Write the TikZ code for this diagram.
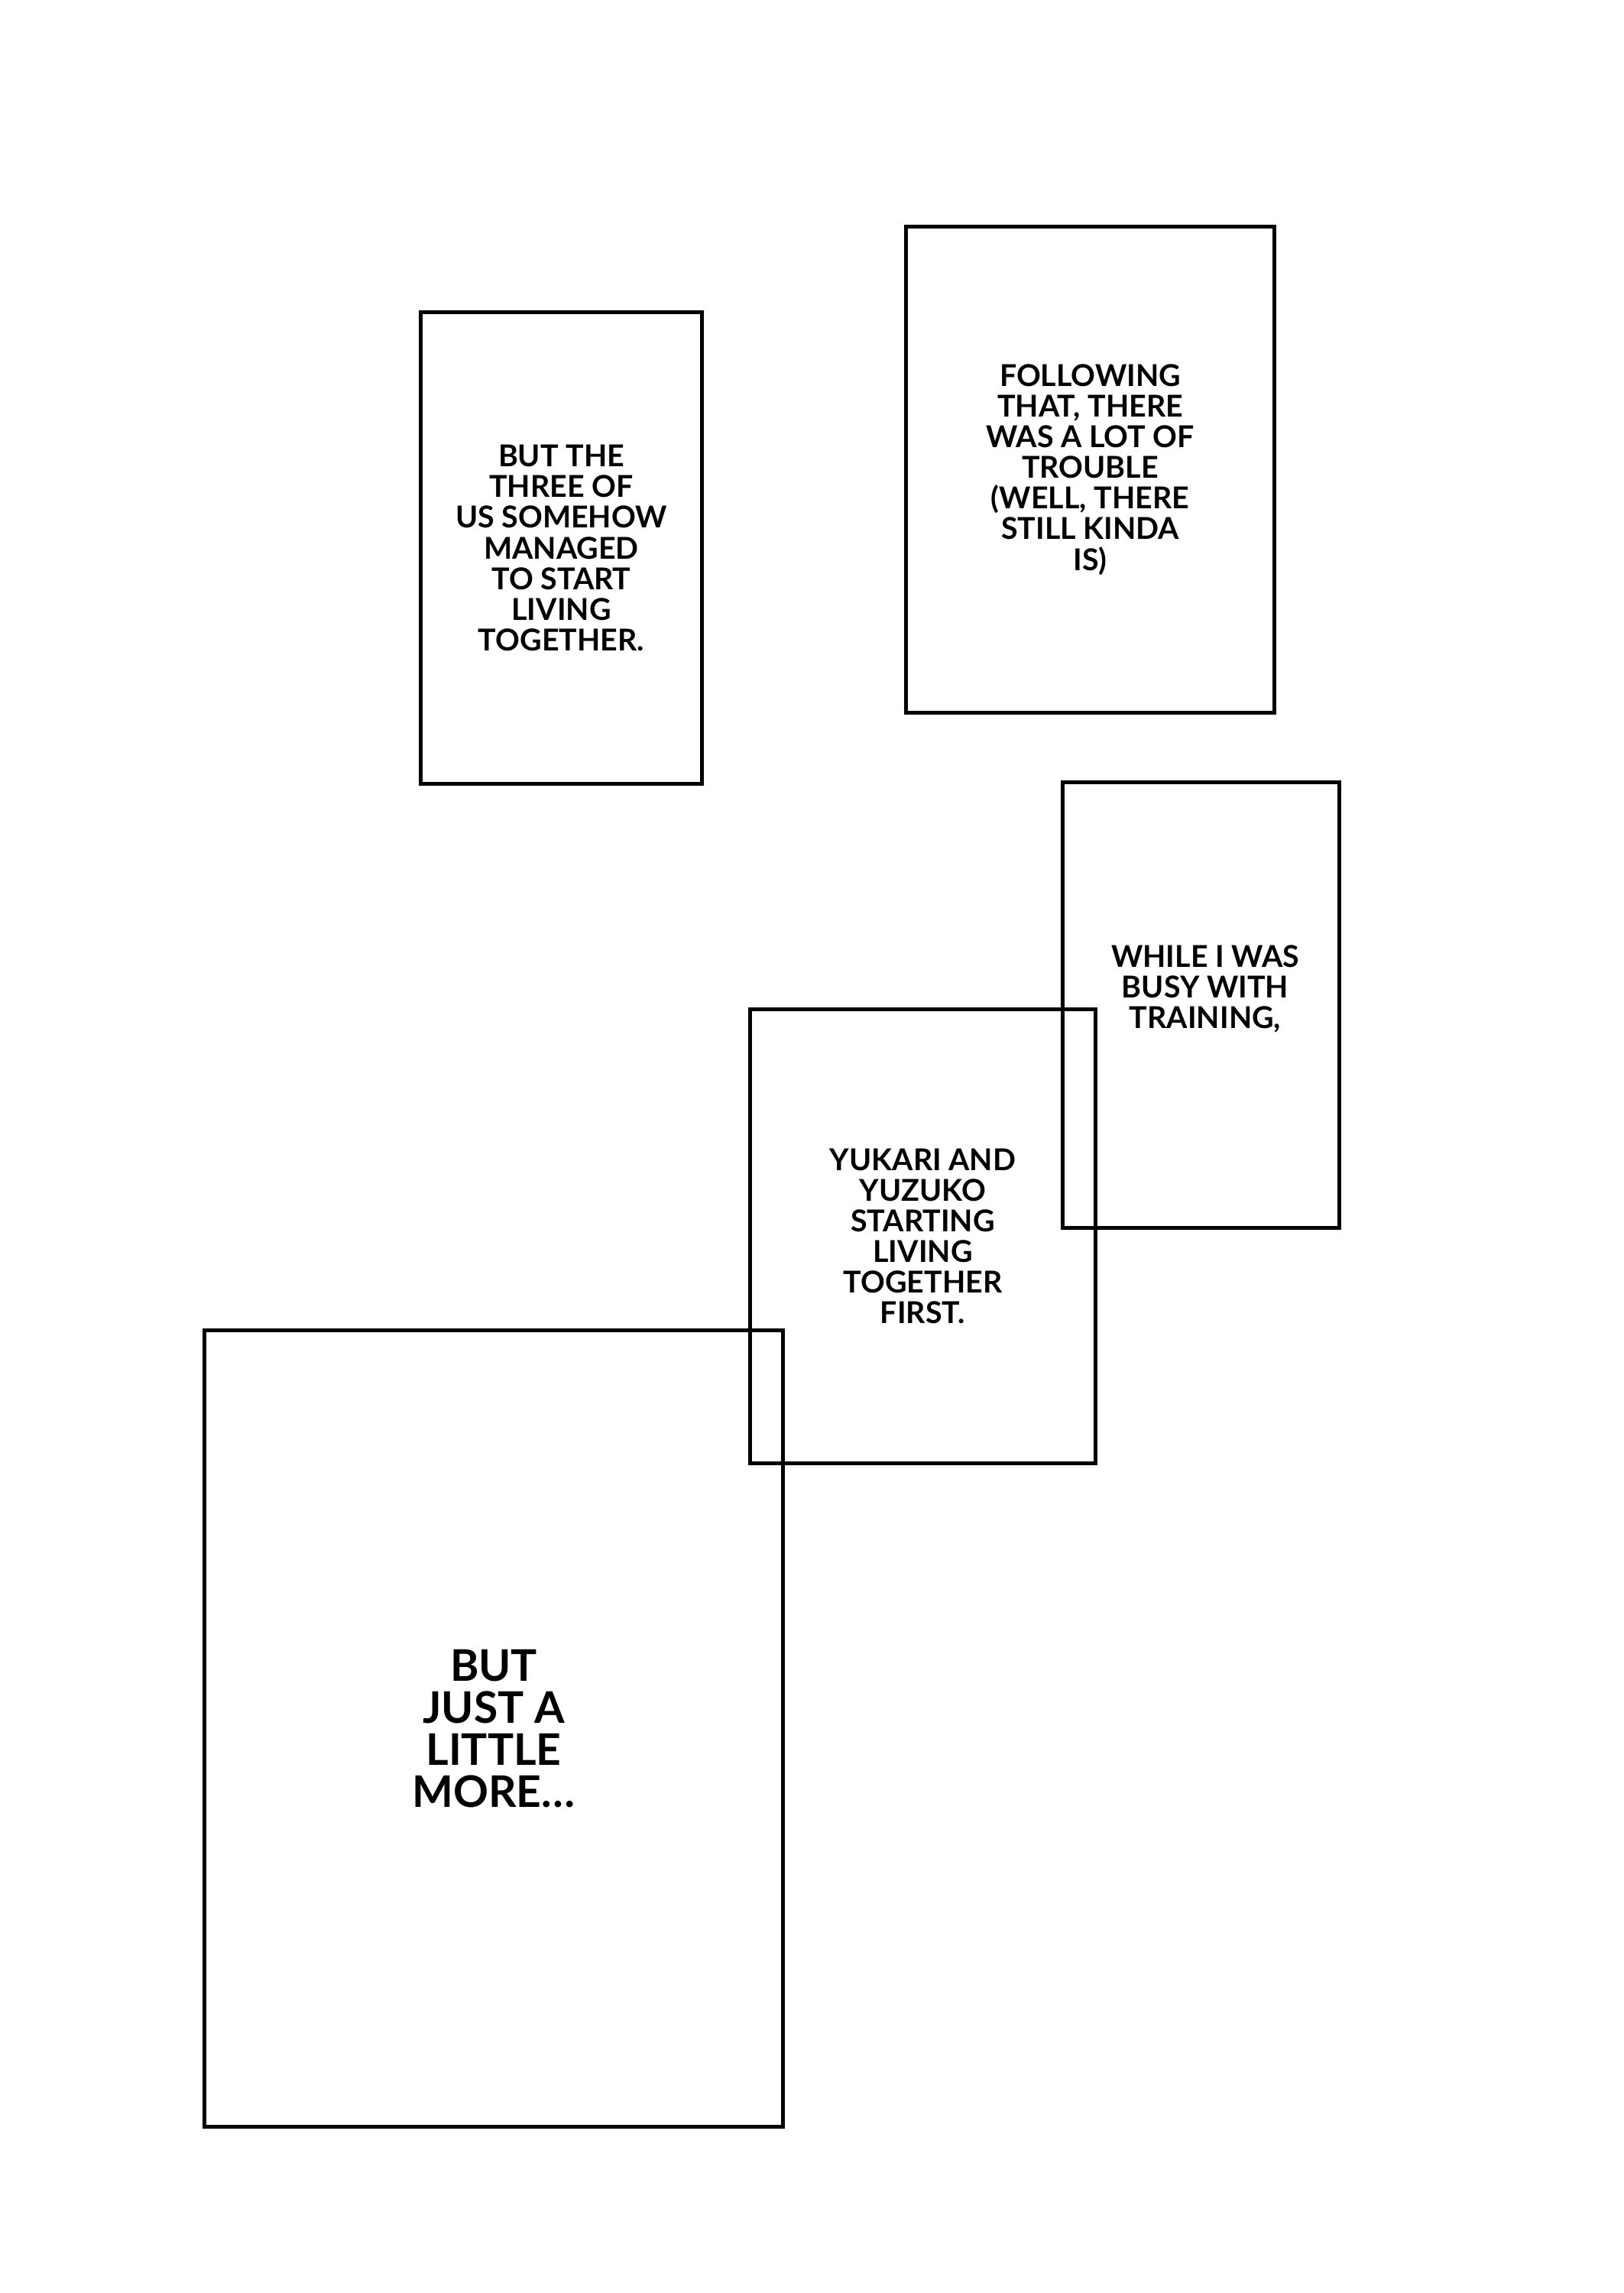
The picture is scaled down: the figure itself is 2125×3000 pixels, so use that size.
\documentclass[tikz,border=0pt]{standalone}
\usepackage{fontspec}
\setmainfont{Lato}
\usepackage{tikz}
\usetikzlibrary{positioning}

\tikzset{
  panel/.style={draw, line width=1.42pt, rectangle, align=center, inner sep=0pt,
    font=\fontsize{11.2}{11.4}\selectfont\bfseries},
  bigpanel/.style={panel, font=\fontsize{16.2}{15.6}\selectfont\bfseries}
}

\begin{document}
\begin{tikzpicture}[x=0.01cm, y=-0.01cm]
    \useasboundingbox (0, 0) rectangle (2125, 3000);
    \node[panel, minimum width=3.67cm, minimum height=6.16cm] (three) at (734.5, 717)
        {BUT THE\\THREE OF\\US SOMEHOW\\MANAGED\\TO START\\LIVING\\TOGETHER.};
    \node[panel, minimum width=4.81cm, minimum height=6.35cm] (trouble) at (1426.5, 614.5)
        {FOLLOWING\\THAT, THERE\\WAS A LOT OF\\TROUBLE\\(WELL, THERE\\STILL KINDA\\IS)};
    \node[panel, minimum width=3.61cm, minimum height=5.82cm] (training) at (1571.5, 1315) {};
    \node (trainingtext) at (1577, 1294) [font=\fontsize{11.2}{11.4}\selectfont\bfseries, align=center, inner sep=0pt]
        {WHILE I WAS\\BUSY WITH\\TRAINING,};
    \node[panel, minimum width=4.51cm, minimum height=5.93cm] (first) at (1207.5, 1617.5)
        {YUKARI AND\\YUZUKO\\STARTING\\LIVING\\TOGETHER\\FIRST.};
    \node[bigpanel, minimum width=7.56cm, minimum height=10.41cm] (more) at (646, 2261.5)
        {BUT\\JUST A\\LITTLE\\MORE\ldots};
\end{tikzpicture}
\end{document}
